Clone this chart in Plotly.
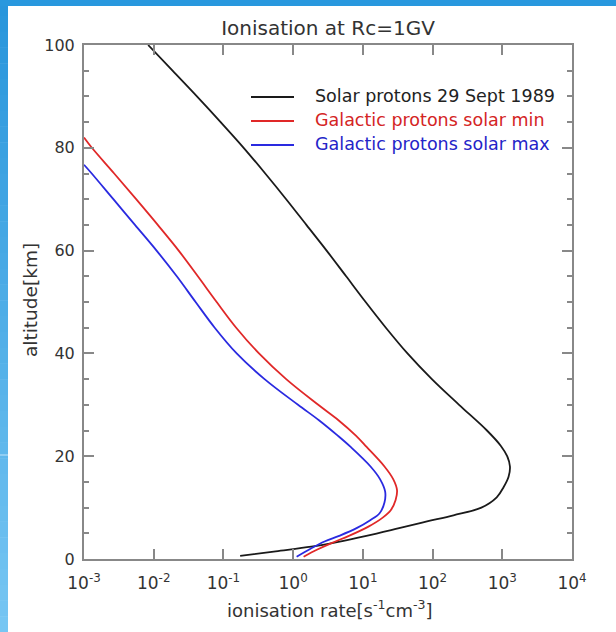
import plotly.graph_objects as go

# ---- data (altitude km, log10 of ionisation rate) ----
solar_alt = [100, 95, 90, 85, 80, 75, 70, 65, 60, 55, 50, 45, 40, 35, 30, 25, 22, 20, 18, 16, 14, 12, 10, 8.5, 7.3, 6, 4.5, 3.3, 2.4, 1.5, 0.6]
solar_log = [-2.08, -1.73, -1.38, -1.04, -0.71, -0.40, -0.10, 0.19, 0.48, 0.76, 1.04, 1.33, 1.64, 1.99, 2.38, 2.78, 2.98, 3.07, 3.11, 3.09, 3.02, 2.92, 2.70, 2.30, 1.92, 1.52, 1.05, 0.63, 0.26, -0.25, -0.76]

gmin_alt = [82, 80, 75, 70, 65, 60, 55, 50, 45, 40, 35, 30, 27, 24, 21.8, 18, 15.5, 13.4, 11.5, 9.5, 8, 6.3, 4.5, 3.1, 1.8, 0.45]
gmin_log = [-3.0, -2.887, -2.567, -2.252, -1.942, -1.642, -1.367, -1.097, -0.817, -0.49, -0.10, 0.36, 0.65, 0.90, 1.054, 1.31, 1.437, 1.49, 1.47, 1.40, 1.28, 1.08, 0.80, 0.55, 0.34, 0.15]

gmax_alt = [76.7, 75, 70, 65, 60, 55, 50, 45, 40, 35, 30, 27, 24, 21.8, 18, 15.5, 13.1, 11, 8.9, 7.5, 6, 4.5, 3.4, 2, 0.45]
gmax_log = [-3.0, -2.889, -2.579, -2.269, -1.959, -1.669, -1.399, -1.125, -0.81, -0.41, 0.07, 0.37, 0.64, 0.825, 1.11, 1.248, 1.32, 1.31, 1.24, 1.10, 0.91, 0.66, 0.45, 0.25, 0.05]

x_tick_exp = [-3, -2, -1, 0, 1, 2, 3, 4]
y_ticks = [0, 20, 40, 60, 80, 100]

legend_names = ["Solar protons 29 Sept 1989", "Galactic protons solar min", "Galactic protons solar max"]
line_colors = ["#1a1a1a", "#e02828", "#2a2ae0"]
text_colors = ["#222222", "#d42424", "#2424c8"]

series = [(solar_log, solar_alt), (gmin_log, gmin_alt), (gmax_log, gmax_alt)]

FONT = "DejaVu Sans"
TXT = "#333333"

fig = go.Figure()
for (lx, alt), name, col in zip(series, legend_names, line_colors):
    fig.add_trace(go.Scatter(
        x=[10 ** v for v in lx], y=alt, mode="lines", name=name,
        line=dict(color=col, width=1.8, shape="spline", smoothing=1.0),
        showlegend=False))

# plot area in pixels
L, R, T, B = 84, 572, 45, 559
W, H = 616, 632
pw, ph = R - L, B - T
def px(xp):
    return (xp - L) / pw
def py(yp):
    return (B - yp) / ph

shapes = []
# slide frame: left gradient strip and top strip
n = 40
c0 = (40, 150, 220)
c1 = (118, 198, 243)
for i in range(n):
    t = i / (n - 1)
    c = tuple(int(c0[k] + (c1[k] - c0[k]) * t) for k in range(3))
    y0 = i * H / n
    y1 = (i + 1) * H / n + 0.5
    shapes.append(dict(type="rect", xref="paper", yref="paper",
                       x0=px(0), x1=px(8), y0=py(y1), y1=py(y0),
                       fillcolor="rgb(%d,%d,%d)" % c, line=dict(width=0), layer="below"))
shapes.append(dict(type="line", xref="paper", yref="paper",
                   x0=px(0), x1=px(8), y0=py(455), y1=py(455),
                   line=dict(color="rgba(220,240,255,0.8)", width=1), layer="below"))
shapes.append(dict(type="rect", xref="paper", yref="paper",
                   x0=px(0), x1=px(W), y0=py(6), y1=py(0),
                   fillcolor="rgb(40,152,222)", line=dict(width=0), layer="below"))

# legend (manual)
annotations = []
leg_y = [97, 121, 145]
for yy, name, lc, tc in zip(leg_y, legend_names, line_colors, text_colors):
    shapes.append(dict(type="line", xref="paper", yref="paper",
                       x0=px(251), x1=px(294), y0=py(yy), y1=py(yy),
                       line=dict(color=lc, width=1.8)))
    annotations.append(dict(xref="paper", yref="paper", x=px(313), y=py(yy - 1),
                            text=name, showarrow=False, xanchor="left", yanchor="middle",
                            font=dict(color=tc, size=17.5, family=FONT)))

# axis titles as annotations for precise placement
annotations.append(dict(xref="paper", yref="paper", x=px(330), y=py(609),
                        text="ionisation rate[s<sup>-1</sup>cm<sup>-3</sup>]", showarrow=False,
                        xanchor="center", yanchor="middle",
                        font=dict(color=TXT, size=18, family=FONT)))
annotations.append(dict(xref="paper", yref="paper", x=px(30), y=py(300),
                        text="altitude[km]", showarrow=False, textangle=-90,
                        xanchor="center", yanchor="middle",
                        font=dict(color=TXT, size=18.5, family=FONT)))

fig.update_layout(
    width=W, height=H,
    margin=dict(l=L, r=W - R, t=T, b=H - B),
    paper_bgcolor="white", plot_bgcolor="white",
    title=dict(text="Ionisation at Rc=1GV", x=(L + pw / 2) / W, xanchor="center",
               y=1 - 28 / H, yanchor="middle",
               font=dict(size=20, color=TXT, family=FONT)),
    shapes=shapes, annotations=annotations,
    font=dict(family=FONT, size=15, color=TXT),
)

fig.update_xaxes(
    type="log", range=[-3, 4],
    tickvals=[10 ** e for e in x_tick_exp],
    ticktext=["10<sup>%d</sup>" % e for e in x_tick_exp],
    ticks="inside", ticklen=10, tickcolor="#888888", tickwidth=1.5,
    showline=True, linecolor="#888888", linewidth=2, mirror="ticks",
    showgrid=False, zeroline=False, ticklabelstandoff=8,
    tickfont=dict(size=17, color=TXT, family=FONT),
)
fig.update_yaxes(
    range=[0, 100], tickvals=y_ticks,
    ticks="inside", ticklen=10, tickcolor="#888888", tickwidth=1.5,
    minor=dict(dtick=5, ticklen=5, ticks="inside", tickcolor="#888888", tickwidth=1.5),
    showline=True, linecolor="#888888", linewidth=2, mirror="ticks",
    showgrid=False, zeroline=False, ticklabelstandoff=4,
    tickfont=dict(size=16, color=TXT, family=FONT),
)

fig.write_html("out.html")
